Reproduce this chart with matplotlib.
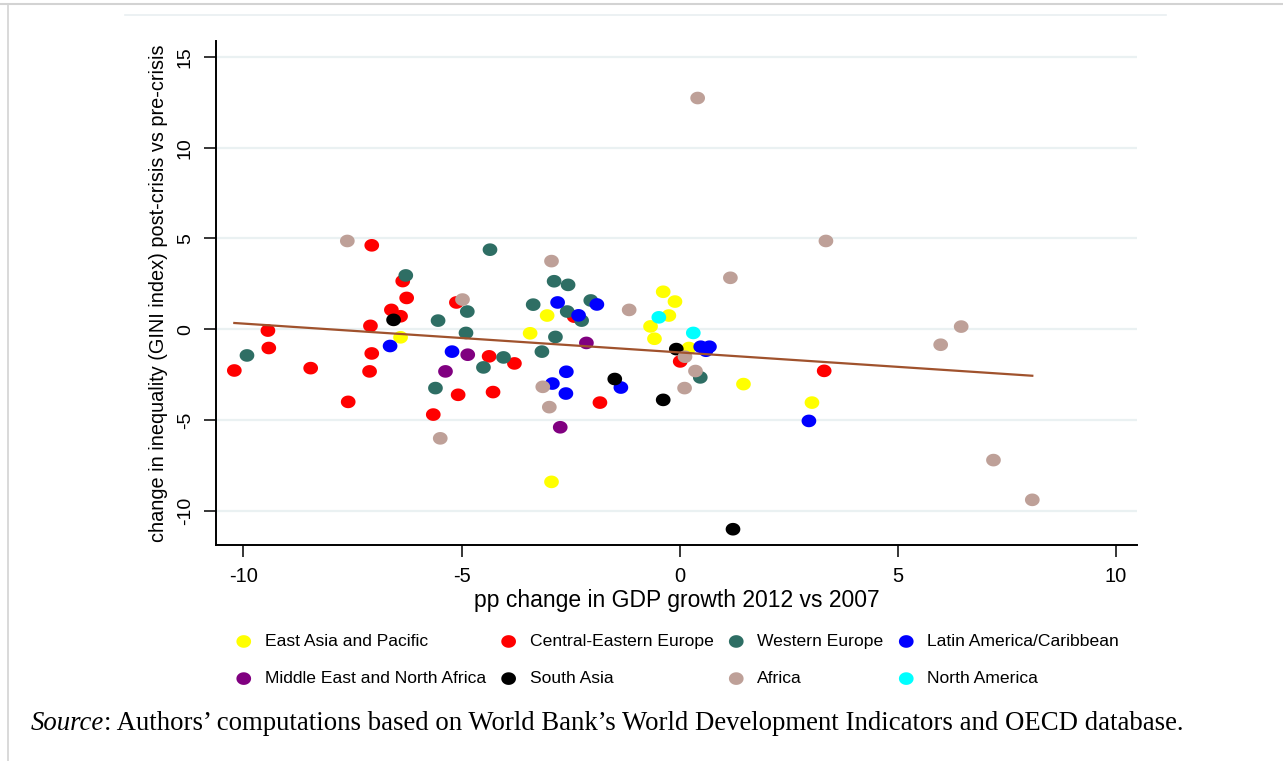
import numpy as np
import matplotlib
matplotlib.use("Agg")
import matplotlib.pyplot as plt
from matplotlib.path import Path
from matplotlib.lines import Line2D

plt.rcParams['font.family'] = ['Liberation Sans', 'DejaVu Sans']
plt.rcParams['axes.unicode_minus'] = False

# region names and colours, in Stata drawing order
regions = ["East Asia and Pacific", "Central-Eastern Europe", "Western Europe",
           "Latin America/Caribbean", "Middle East and North Africa", "South Asia",
           "Africa", "North America"]
colors = ["#FFFF00", "#FF0000", "#2E6E64", "#0000FF", "#800080", "#000000",
          "#BEA098", "#00FFFF"]

# pp change in GDP growth (x) and change in GINI (y)
eap_x = [-6.40, -3.43, -3.04, -0.38, -0.11, -0.25, -0.67, -0.58, 0.21, 1.46, 3.03, -2.94]
eap_y = [-0.45, -0.23, 0.75, 2.06, 1.52, 0.75, 0.15, -0.53, -1.04, -3.03, -4.05, -8.42]

cee_x = [-7.06, -6.35, -6.26, -5.12, -6.61, -6.40, -7.09, -9.44, -9.42, -10.21, -8.46, -7.06,
         -7.11, -7.60, -4.37, -3.79, -5.08, -4.28, -5.65, -2.42, -1.83, 0.01, 3.31]
cee_y = [4.62, 2.65, 1.72, 1.47, 1.06, 0.71, 0.18, -0.08, -1.04, -2.28, -2.15, -1.34,
         -2.33, -4.01, -1.50, -1.89, -3.62, -3.47, -4.71, 0.69, -4.05, -1.78, -2.30]

we_x = [-4.35, -6.28, -4.87, -3.36, -5.54, -4.90, -9.92, -4.04, -3.16, -4.50, -5.60, -2.88,
        -2.56, -2.04, -2.58, -2.25, -2.85, 0.47]
we_y = [4.38, 2.96, 0.97, 1.35, 0.47, -0.21, -1.45, -1.56, -1.24, -2.11, -3.25, 2.64,
        2.44, 1.58, 0.97, 0.47, -0.43, -2.66]

lac_x = [-6.64, -5.22, -2.80, -1.90, -2.32, -2.60, -2.92, -2.61, -1.35, 0.48, 0.68, 0.60, 2.96]
lac_y = [-0.93, -1.24, 1.47, 1.36, 0.76, -2.35, -3.00, -3.55, -3.22, -0.97, -0.97, -1.19, -5.06]

mena_x = [-4.86, -5.37, -2.14, -2.74]
mena_y = [-1.41, -2.33, -0.76, -5.41]

sa_x = [-6.56, -0.08, -0.38, -1.49, 1.22]
sa_y = [0.51, -1.10, -3.90, -2.75, -11.03]

afr_x = [-7.62, -4.98, -2.94, -5.49, -3.14, -2.99, -1.16, 1.16, 0.12, 0.36, 0.11, 3.35,
         6.45, 5.98, 7.19, 8.08, 0.41]
afr_y = [4.86, 1.63, 3.75, -6.02, -3.18, -4.30, 1.06, 2.83, -1.52, -2.31, -3.25, 4.86,
         0.14, -0.86, -7.22, -9.41, 12.74]

na_x = [-0.48, 0.31]
na_y = [0.65, -0.21]

# fitted line as drawn in the chart
fit_slope = -0.159
fit_intercept = -1.285

xs = [eap_x, cee_x, we_x, lac_x, mena_x, sa_x, afr_x, na_x]
ys = [eap_y, cee_y, we_y, lac_y, mena_y, sa_y, afr_y, na_y]

# slightly flattened dot, like the Stata export
theta = np.linspace(0, 2 * np.pi, 64)
dot = Path(np.column_stack([np.cos(theta), 0.86 * np.sin(theta)]))

fig = plt.figure(figsize=(12.83, 7.61), dpi=100)
ax = fig.add_axes([216 / 1283, 1 - 545 / 761, 921 / 1283, 504.3 / 761])

for t in range(-10, 16, 5):
    ax.axhline(t, color="#EAF1F2", lw=1.6, zorder=0)

handles = []
for x, y, c, name in zip(xs, ys, colors, regions):
    h = ax.scatter(x, y, s=112, marker=dot, color=c, edgecolors="none", label=name, zorder=2)
    handles.append(h)

all_x = np.concatenate([np.array(v) for v in xs])
lx = np.array([all_x.min(), all_x.max()])
ax.plot(lx, fit_intercept + fit_slope * lx, color="#A0522D", lw=1.6, zorder=3)

ax.set_xlim(-10.63, 10.48)
ax.set_ylim(-11.9, 15.9)
ax.set_xticks(range(-10, 11, 5))
ax.set_yticks(range(-10, 16, 5))
for s in ["top", "right"]:
    ax.spines[s].set_visible(False)
for s in ["left", "bottom"]:
    ax.spines[s].set_linewidth(1.4)
ax.tick_params(direction="out", length=8.5, width=1.1, pad=7.5, labelsize=14.5, colors="black")
plt.setp(ax.get_yticklabels(), rotation=90, va="center", fontsize=14)

ax.set_xlabel("pp change in GDP growth 2012 vs 2007", fontsize=16.5, labelpad=2)
ax.set_ylabel("change in inequality (GINI index) post-crisis vs pre-crisis", fontsize=14.3, labelpad=6)

order = [0, 4, 1, 5, 2, 6, 3, 7]
fig.legend([handles[i] for i in order], [regions[i] for i in order], ncol=4,
           loc="center left", bbox_to_anchor=(235 / 1283, 1 - 660 / 761),
           frameon=False, fontsize=12.6, handlelength=1.0, handletextpad=0.7,
           columnspacing=0.8, labelspacing=1.25, borderpad=0, borderaxespad=0,
           scatterpoints=1)

# page frame from the source document
fig.add_artist(Line2D([0, 1], [1 - 4 / 761] * 2, transform=fig.transFigure, color="#D3D3D3", lw=1.5))
fig.add_artist(Line2D([8 / 1283] * 2, [0, 1 - 4 / 761], transform=fig.transFigure, color="#D3D3D3", lw=1.2))
fig.add_artist(Line2D([125 / 1283, 1166 / 1283], [1 - 14.5 / 761] * 2, transform=fig.transFigure,
                      color="#E9EFF1", lw=1.2))

src = fig.text(31 / 1283, 1 - 736 / 761, "Source", family="Liberation Serif", style="italic",
               fontsize=19.3, va="bottom")
ax.annotate(": Authors\u2019 computations based on World Bank\u2019s World Development Indicators and OECD database.",
            xy=(1, 0), xycoords=src, va="bottom", ha="left", family="Liberation Serif",
            fontsize=19.3, annotation_clip=False)

fig.savefig("out.png", dpi=100)
